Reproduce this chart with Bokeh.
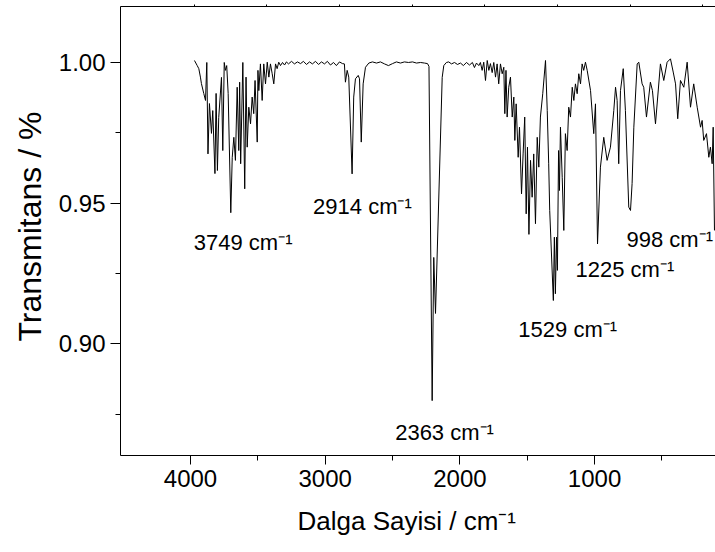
from bokeh.plotting import figure
from bokeh.models import Range1d, LinearAxis, FixedTicker, Label, PrintfTickFormatter, Title
from bokeh.embed import file_html
from bokeh.resources import INLINE

# IR spectrum: wavenumber (cm-1) and transmittance
wavenumber = [
    3999, 3980, 3969, 3958, 3951, 3935, 3923, 3914, 3906, 3896, 3882, 3873, 3858, 3850,
    3841, 3832, 3813, 3804, 3794, 3786, 3777, 3767, 3749, 3739, 3728, 3717, 3705, 3694,
    3688, 3681, 3666, 3653, 3644, 3636, 3625, 3613, 3602, 3591, 3582, 3567, 3562, 3556,
    3545, 3533, 3522, 3510, 3498, 3487, 3476, 3464, 3453, 3441, 3430, 3419, 3407, 3393,
    3379, 3366, 3352, 3331, 3311, 3290, 3269, 3249, 3228, 3207, 3187, 3166, 3145, 3125,
    3104, 3084, 3063, 3042, 3022, 3001, 2980, 2967, 2960, 2948, 2937, 2914, 2903, 2891,
    2872, 2863, 2851, 2838, 2822, 2799, 2774, 2746, 2719, 2691, 2664, 2636, 2609, 2581,
    2554, 2526, 2498, 2471, 2443, 2416, 2395, 2385, 2363, 2352, 2340, 2294, 2283, 2265,
    2249, 2230, 2209, 2189, 2168, 2148, 2127, 2106, 2086, 2072, 2058, 2042, 2031, 2019,
    2008, 1996, 1984, 1973, 1962, 1950, 1939, 1927, 1916, 1905, 1893, 1881, 1870, 1863,
    1855, 1847, 1836, 1824, 1812, 1801, 1794, 1785, 1771, 1762, 1748, 1737, 1726, 1716,
    1707, 1697, 1686, 1675, 1664, 1652, 1640, 1629, 1618, 1602, 1583, 1571, 1561, 1554,
    1529, 1522, 1515, 1507, 1501, 1493, 1487, 1480, 1468, 1457, 1446, 1434, 1423, 1411,
    1399, 1388, 1377, 1365, 1354, 1342, 1331, 1320, 1308, 1296, 1273, 1251, 1239, 1225,
    1205, 1182, 1159, 1136, 1113, 1101, 1090, 1079, 1067, 1048, 1033, 1010, 998, 987,
    975, 952, 941, 918, 907, 888, 861, 847, 826, 792, 769, 746, 723, 704,
    688, 673, 654, 631, 608, 585, 563, 539, 516, 505, 494, 475, 459, 448,
    436, 429, 420,
]
transmittance = [
    1.0007, 0.9989, 0.9978, 0.9948, 0.9925, 0.9890, 0.9865, 1.0000, 0.9675, 0.9854, 0.9748, 0.9829, 0.9605, 0.9890,
    0.9616, 0.9804, 0.9947, 0.9687, 1.0000, 0.9972, 0.9989, 0.9890, 0.9466, 0.9663, 0.9734, 0.9652, 0.9912, 0.9687,
    0.9930, 0.9640, 1.0000, 0.9551, 0.9948, 0.9699, 0.9841, 0.9782, 0.9877, 0.9818, 0.9936, 0.9717, 0.9972, 0.9900,
    0.9995, 0.9865, 0.9995, 0.9924, 1.0001, 0.9948, 0.9995, 0.9960, 0.9924, 0.9995, 0.9978, 1.0001, 0.9989, 1.0000,
    0.9991, 1.0002, 0.9995, 1.0004, 0.9995, 1.0002, 0.9996, 1.0004, 0.9993, 1.0002, 0.9995, 1.0004, 0.9993, 1.0002,
    0.9995, 1.0004, 0.9991, 1.0000, 0.9989, 1.0002, 0.9996, 0.9995, 0.9930, 0.9972, 0.9948, 0.9604, 0.9877, 0.9942,
    0.9954, 0.9942, 0.9717, 0.9924, 0.9983, 0.9998, 1.0002, 0.9998, 1.0002, 0.9995, 0.9989, 0.9996, 1.0002, 0.9998,
    1.0002, 1.0000, 1.0002, 0.9998, 1.0000, 0.9998, 0.9996, 0.9986, 0.8798, 0.9307, 0.9108, 0.9947, 0.9989, 1.0000,
    1.0002, 0.9995, 1.0000, 0.9993, 0.9998, 0.9989, 1.0000, 0.9991, 1.0000, 0.9982, 0.9998, 0.9989, 1.0000, 0.9972,
    1.0001, 0.9936, 1.0007, 0.9972, 0.9996, 0.9964, 1.0000, 0.9948, 0.9995, 0.9924, 0.9995, 0.9960, 0.9983, 0.9818,
    0.9972, 0.9806, 0.9912, 0.9948, 0.9806, 0.9877, 0.9723, 0.9853, 0.9663, 0.9770, 0.9533, 0.9675, 0.9806, 0.9462,
    0.9699, 0.9389, 0.9652, 0.9521, 0.9675, 0.9427, 0.9734, 0.9628, 0.9806, 0.9889, 1.0007, 0.9829, 0.9640, 0.9474,
    0.9154, 0.9379, 0.9178, 0.9379, 0.9261, 0.9687, 0.9545, 0.9770, 0.9592, 0.9403, 0.9747, 0.9687, 0.9841, 0.9806,
    0.9912, 0.9865, 0.9924, 0.9889, 0.9960, 0.9924, 0.9995, 0.9972, 1.0001, 0.9972, 0.9900, 0.9747, 0.9853, 0.9355,
    0.9628, 0.9734, 0.9652, 0.9699, 0.9829, 0.9912, 0.9865, 0.9640, 0.9900, 0.9978, 0.9829, 0.9486, 0.9474, 0.9570,
    0.9770, 0.9995, 1.0001, 0.9924, 0.9912, 0.9806, 0.9930, 0.9900, 0.9782, 0.9995, 0.9936, 1.0001, 1.0013, 0.9966,
    0.9924, 0.9800, 0.9936, 0.9912, 1.0001, 0.9841, 0.9924, 0.9841, 0.9770, 0.9794, 0.9723, 0.9747, 0.9663, 0.9699,
    0.9640, 0.9770, 0.9403,
]

# Annotated band positions (cm-1)
peak_wavenumbers = [3749, 2914, 2363, 1529, 1225, 998]

# Axis ticks
bottom_ticks = [4000, 3000, 2000, 1000]
bottom_minor_ticks = [3500, 2500, 1500, 500]
top_ticks = [4000, 3500, 3000, 2500, 2000, 1500, 1000, 500]
y_ticks = [0.90, 0.95, 1.00]
y_minor_ticks = [0.875, 0.925, 0.975]

FONT = "Liberation Sans"

p = figure(
    width=715, height=552,
    x_range=Range1d(4508, 413), y_range=Range1d(0.8603, 1.0199),
    output_backend="svg", toolbar_location=None,
    x_axis_location=None, y_axis_location=None,
    min_border_left=120, min_border_right=0, min_border_top=6, min_border_bottom=97,
)
p.outline_line_color = None
p.xgrid.visible = False
p.ygrid.visible = False
p.background_fill_color = "white"
p.border_fill_color = "white"

# The lower scale has its own range
p.extra_x_ranges = {"scale": Range1d(4520, 102)}

bottom = LinearAxis(
    x_range_name="scale",
    ticker=FixedTicker(ticks=bottom_ticks, minor_ticks=bottom_minor_ticks),
)
bottom.major_tick_out = 9
bottom.major_tick_in = 0
bottom.minor_tick_out = 5
bottom.minor_tick_in = 0
bottom.major_label_text_font = FONT
bottom.major_label_text_font_size = "24px"
bottom.major_label_text_color = "black"
bottom.major_label_standoff = 5
bottom.axis_line_color = "black"
bottom.major_tick_line_color = "black"
bottom.minor_tick_line_color = "black"
p.add_layout(bottom, "below")

top = LinearAxis(ticker=FixedTicker(ticks=top_ticks, minor_ticks=[]))
top.major_tick_out = 2
top.major_tick_in = 0
top.major_label_overrides = {t: "" for t in top_ticks}
top.major_label_standoff = 0
top.major_label_text_font_size = "8px"
top.axis_line_color = "black"
top.major_tick_line_color = "black"
p.add_layout(top, "above")

left = LinearAxis(
    ticker=FixedTicker(ticks=y_ticks, minor_ticks=y_minor_ticks),
    formatter=PrintfTickFormatter(format="%.2f"),
)
left.major_tick_out = 10
left.major_tick_in = 0
left.minor_tick_out = 5
left.minor_tick_in = 0
left.major_label_text_font = FONT
left.major_label_text_font_size = "24px"
left.major_label_text_color = "black"
left.major_label_standoff = 5
left.axis_line_color = "black"
p.add_layout(left, "left")

# Axis titles
p.add_layout(Title(
    text="Dalga Sayisi / cm\u207b\u00b9", align="left", offset=177,
    text_font=FONT, text_font_size="26px", text_font_style="normal",
    text_color="black", standoff=29,
), "below")
p.add_layout(Title(
    text="Transmitans / %", align="left", offset=114,
    text_font=FONT, text_font_size="32px", text_font_style="normal",
    text_color="black", standoff=15,
), "left")

# Spectrum
p.line(wavenumber, transmittance, line_color="black", line_width=1)

# Band labels, placed just below each minimum
label_offsets = {
    3749: (-37, -30),
    2914: (-39, -33),
    2363: (-37, -32),
    1529: (-35, -29),
    1225: (-22, -26),
    998: (-4, -29),
}
for wn in peak_wavenumbers:
    t = transmittance[wavenumber.index(wn)]
    dx, dy = label_offsets[wn]
    p.add_layout(Label(
        x=wn, y=t, x_offset=dx, y_offset=dy,
        text=f"{wn} cm\u207b\u00b9",
        text_font=FONT, text_font_size="22px", text_color="black",
        text_align="left", text_baseline="alphabetic",
    ))

open("out.html", "w").write(file_html(p, INLINE))
